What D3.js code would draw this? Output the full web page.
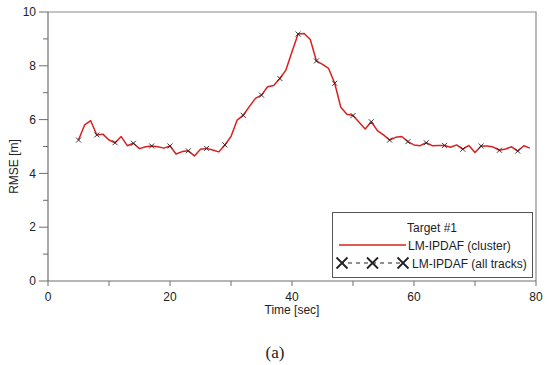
<!DOCTYPE html>
<html>
<head>
<meta charset="utf-8">
<script src="https://cdn.jsdelivr.net/npm/d3@7"></script>
<style>
  body { margin: 0; background: #fff; }
  svg { display: block; font-family: "Liberation Sans", Arial, sans-serif; }
</style>
</head>
<body>
<svg id="chart" width="549" height="365"></svg>
<script>
// time axis, one sample per second
const times = d3.range(5, 80);
// LM-IPDAF (cluster) RMSE values, t = 5..79
const clusterRmse = [
  5.24, 5.80, 5.96, 5.43, 5.46, 5.24, 5.14, 5.37, 5.03, 5.12,
  4.92, 4.99, 5.02, 4.99, 4.94, 5.02, 4.72, 4.81, 4.84, 4.65,
  4.90, 4.93, 4.87, 4.80, 5.06, 5.37, 5.98, 6.16, 6.48, 6.79,
  6.91, 7.22, 7.27, 7.53, 7.84, 8.52, 9.18, 9.20, 8.98, 8.18,
  8.05, 7.90, 7.35, 6.46, 6.20, 6.15, 5.90, 5.65, 5.92, 5.59,
  5.43, 5.24, 5.34, 5.37, 5.18, 5.06, 5.03, 5.14, 5.03, 5.04,
  5.04, 4.97, 5.06, 4.90, 5.04, 4.78, 5.02, 5.02, 4.98, 4.86,
  4.91, 4.99, 4.83, 5.03, 4.94
];
// LM-IPDAF (all tracks), marked every 3 s
const trackTimes = d3.range(5, 80, 3);
const trackRmse = [
  5.24, 5.43, 5.14, 5.12, 5.02, 5.02, 4.84, 4.93, 5.06, 6.16,
  6.91, 7.53, 9.18, 8.18, 7.35, 6.15, 5.92, 5.24, 5.18, 5.14,
  5.04, 4.90, 5.02, 4.86, 4.83
];
const xTicks = [0, 10, 20, 30, 40, 50, 60, 70, 80];
const xLabels = [0, 20, 40, 60, 80];
const yTicks = d3.range(0, 11, 1);
const yLabels = [0, 2, 4, 6, 8, 10];

const svg = d3.select("#chart");
const margin = { left: 48, right: 13, top: 12, bottom: 84 };
const W = 549, H = 365;
const x = d3.scaleLinear().domain([0, 80]).range([margin.left, W - margin.right]);
const y = d3.scaleLinear().domain([0, 10]).range([H - margin.bottom, margin.top]);
const axisColor = "#6e6e6e";
const fs = 12;

// frame (top + right)
svg.append("path")
  .attr("d", `M${x(0)},${y(10)}H${x(80)}V${y(0)}`)
  .attr("fill", "none").attr("stroke", "#8a8a8a").attr("stroke-width", 1.2);

// x axis
const gx = svg.append("g").attr("transform", `translate(0,${y(0)})`);
gx.append("line").attr("x1", x(0)).attr("x2", x(80))
  .attr("stroke", axisColor).attr("stroke-width", 1.2);
gx.selectAll(".xt").data(xTicks).join("line")
  .attr("x1", d => x(d)).attr("x2", d => x(d))
  .attr("y1", 0).attr("y2", 5)
  .attr("stroke", axisColor);
gx.selectAll(".xl").data(xLabels).join("text")
  .attr("x", d => x(d)).attr("y", 20)
  .attr("text-anchor", "middle").attr("font-size", fs).attr("fill", "#222")
  .text(d => d);
svg.append("text")
  .attr("x", (x(0) + x(80)) / 2).attr("y", 314)
  .attr("text-anchor", "middle").attr("font-size", fs).attr("fill", "#222")
  .text("Time [sec]");

// y axis
const gy = svg.append("g").attr("transform", `translate(${x(0)},0)`);
gy.append("line").attr("y1", y(0)).attr("y2", y(10))
  .attr("stroke", axisColor).attr("stroke-width", 1.2);
gy.selectAll(".yt").data(yTicks).join("line")
  .attr("x1", d => (d % 2 === 0 ? -9 : -5)).attr("x2", 0)
  .attr("y1", d => y(d)).attr("y2", d => y(d))
  .attr("stroke", axisColor);
gy.selectAll(".yl").data(yLabels).join("text")
  .attr("x", -12).attr("y", d => y(d)).attr("dy", "0.35em")
  .attr("text-anchor", "end").attr("font-size", fs).attr("fill", "#222")
  .text(d => d);
svg.append("text")
  .attr("transform", `translate(18,${(y(0) + y(10)) / 2 + 20}) rotate(-90)`)
  .attr("text-anchor", "middle").attr("font-size", fs).attr("fill", "#222")
  .text("RMSE [m]");

// cluster red line
const line = d3.line().x(d => x(d[0])).y(d => y(d[1]));
const clusterPts = times.map((t, i) => [t, clusterRmse[i]]);
svg.append("path").datum(clusterPts)
  .attr("d", line).attr("fill", "none")
  .attr("stroke", "#d9201f").attr("stroke-width", 1.5).attr("stroke-linejoin", "round");

// all tracks: x markers (line hidden under the cluster curve)
function cross(g, cx, cy, r, sw) {
  g.append("path")
    .attr("d", `M${cx - r},${cy - r}L${cx + r},${cy + r}M${cx - r},${cy + r}L${cx + r},${cy - r}`)
    .attr("stroke", "#222").attr("stroke-width", sw).attr("fill", "none");
}
const trackPts = trackTimes.map((t, i) => [t, trackRmse[i]]);
const gm = svg.append("g");
trackPts.forEach(d => cross(gm, x(d[0]), y(d[1]), 2.5, 0.9));

// legend
const lg = svg.append("g");
lg.append("rect").attr("x", 332.5).attr("y", 212.5).attr("width", 200).attr("height", 65)
  .attr("fill", "#fff").attr("stroke", "#555").attr("stroke-width", 1);
lg.append("text").attr("x", 432).attr("y", 231.5).attr("text-anchor", "middle")
  .attr("font-size", fs).attr("fill", "#222").text("Target #1");
lg.append("line").attr("x1", 339).attr("x2", 406).attr("y1", 245).attr("y2", 245)
  .attr("stroke", "#d9201f").attr("stroke-width", 1.6);
lg.append("text").attr("x", 408).attr("y", 249.5)
  .attr("font-size", fs).attr("fill", "#222").text("LM-IPDAF (cluster)");
lg.append("line").attr("x1", 342).attr("x2", 403).attr("y1", 263).attr("y2", 263)
  .attr("stroke", "#222").attr("stroke-width", 1.2).attr("stroke-dasharray", "4,4")
  .attr("stroke-dashoffset", -6);
[342, 372.5, 403].forEach(cx => cross(lg, cx, 263, 5.5, 1.8));
lg.append("text").attr("x", 412).attr("y", 267.5)
  .attr("font-size", fs).attr("fill", "#222").text("LM-IPDAF (all tracks)");

// caption
svg.append("text").attr("x", 275).attr("y", 358).attr("text-anchor", "middle")
  .attr("font-family", "'Liberation Serif', 'Times New Roman', serif")
  .attr("font-size", 17).attr("fill", "#222").text("(a)");
</script>
</body>
</html>
